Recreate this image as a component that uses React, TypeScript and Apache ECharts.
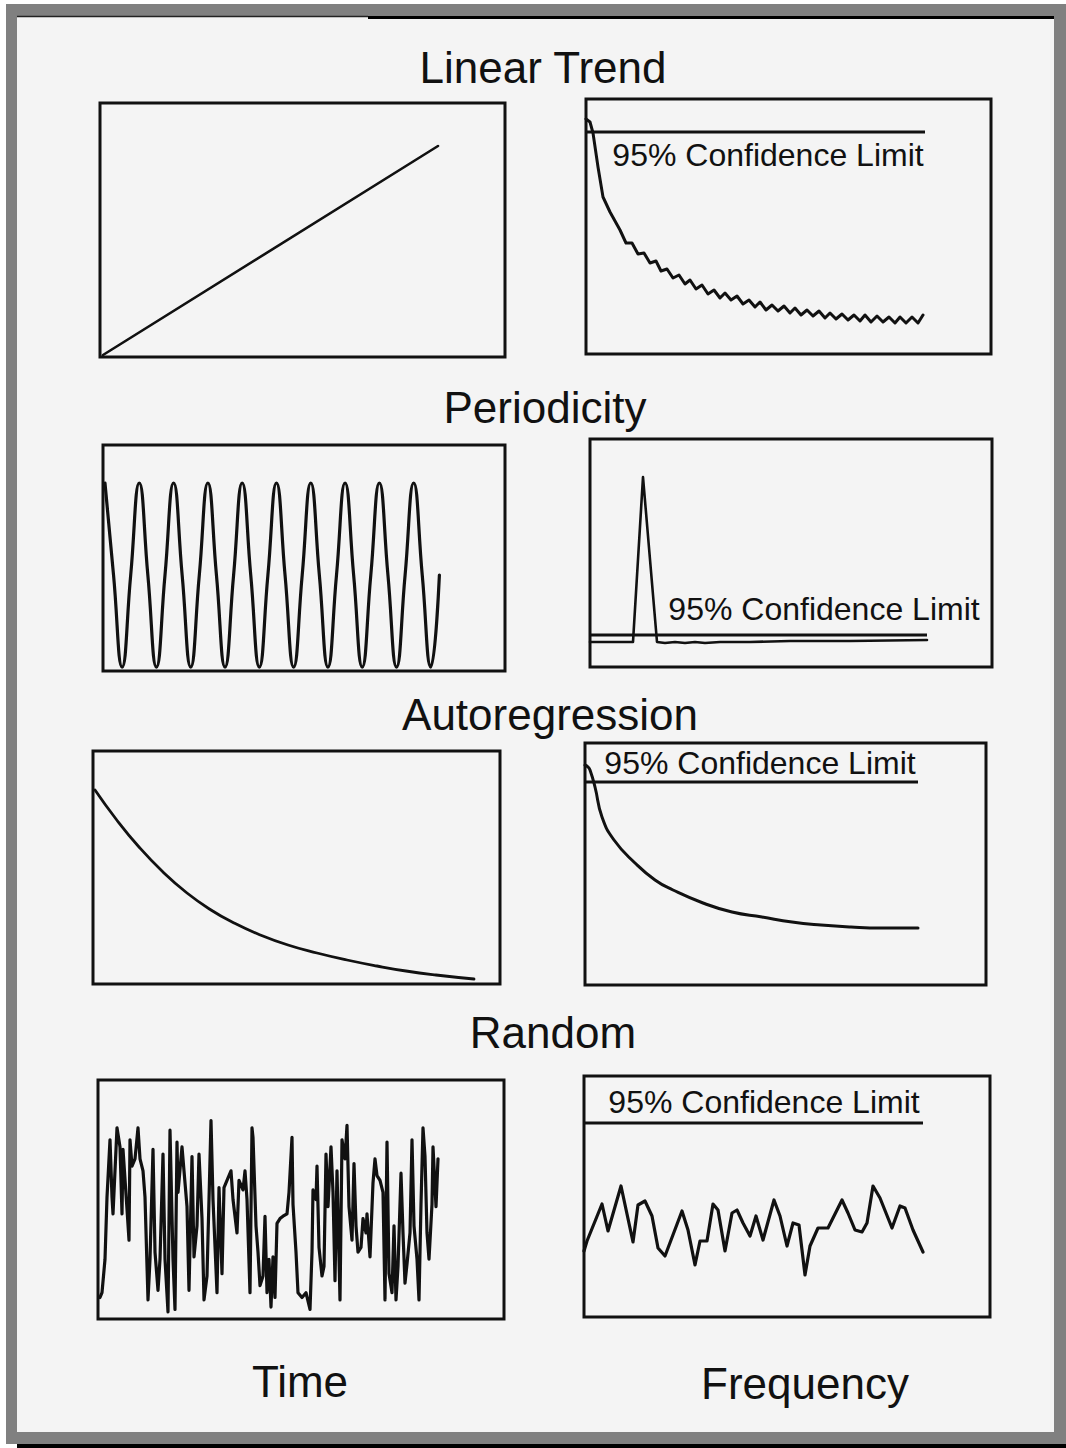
import React, { useEffect, useRef } from "react";
import * as echarts from "echarts";

// ---------------- DATA ----------------
const sectionTitles = ["Linear Trend", "Periodicity", "Autoregression", "Random"];
const columnTitles = ["Time", "Frequency"];
const limitLabel = "95% Confidence Limit";

// Linear trend – time domain
const linearTime = [[0, 2], [335, 211]];
// Linear trend – frequency domain (power spectrum)
const linearFreq = [
  [0, 235], [4, 232], [7, 221], [12, 187], [17, 157], [24, 142], [34, 124], [40, 111], [46, 111], [52, 100],
  [58, 101], [64, 91], [70, 93], [75, 83], [81, 85], [87, 76], [93, 79], [99, 70], [104, 74], [110, 65],
  [116, 69], [122, 60], [128, 64], [134, 56], [139, 61], [145, 54], [151, 58], [157, 50], [163, 54], [169, 47],
  [174, 52], [180, 44], [186, 49], [192, 43], [198, 48], [204, 41], [209, 46], [215, 39], [221, 44], [227, 38],
  [233, 43], [239, 36], [244, 41], [250, 35], [256, 40], [262, 34], [268, 39], [274, 33], [279, 39], [285, 32],
  [291, 38], [297, 32], [303, 37], [309, 31], [314, 37], [320, 31], [326, 37], [332, 31], [337, 39],
];
const linearLimit = [[0, 222], [339, 222]];

// Periodicity – time domain (quarter-period samples)
const periodTime = [
  1, 0, -1, 0, 1, 0, -1, 0, 1, 0, -1, 0, 1, 0, -1, 0, 1, 0, -1, 0,
  1, 0, -1, 0, 1, 0, -1, 0, 1, 0, -1, 0, 1, 0, -1, 0, 1, 0, -1, 0,
];
// Periodicity – frequency domain
const periodFreq = [
  [0, 25], [43, 25], [53, 190], [67, 25], [75, 24], [85, 25], [95, 24], [105, 25], [115, 24],
  [130, 25], [160, 25], [200, 26], [260, 26], [337, 27],
];
const periodLimit = [[0, 32], [337, 32]];

// Autoregression – time domain
const autoTime = [
  [2, 194], [23, 165], [46, 137], [70, 112], [94, 91], [118, 74], [141, 61], [165, 50],
  [195, 39], [224, 31], [254, 24], [284, 18], [313, 13], [343, 9], [381, 5],
];
// Autoregression – frequency domain
const autoFreq = [
  [0, 220], [3, 218], [5, 215], [10, 198], [17, 168], [29, 145], [50, 122], [70, 105], [88, 95],
  [118, 82], [147, 73], [177, 68], [207, 63], [236, 60], [266, 58], [296, 57], [333, 57],
];
const autoLimit = [[0, 203], [333, 203]];

// Random – time domain
const randomTime = [
  [0, 9], [2, 11], [5, 25], [7, 51], [10, 75], [12, 51], [13, 44], [17, 80], [20, 72], [22, 44],
  [23, 71], [27, 46], [29, 33], [30, 75], [32, 64], [35, 67], [38, 80], [40, 67], [43, 62], [45, 51],
  [48, 8], [50, 25], [53, 71], [55, 28], [58, 12], [60, 25], [63, 69], [65, 25], [68, 3], [70, 79],
  [73, 25], [75, 4], [77, 74], [78, 53], [82, 72], [84, 62], [87, 47], [89, 12], [92, 68], [94, 26],
  [97, 39], [99, 69], [102, 42], [104, 8], [107, 18], [109, 50], [111, 83], [113, 50], [117, 11], [119, 55],
  [122, 19], [124, 55], [127, 58], [131, 62], [133, 50], [137, 36], [139, 58], [143, 54], [145, 62], [147, 50],
  [150, 11], [152, 80], [153, 76], [156, 39], [158, 28], [160, 14], [163, 18], [165, 43], [167, 11], [169, 25],
  [171, 5], [173, 26], [175, 9], [177, 40], [180, 42], [183, 43], [187, 44], [189, 53], [192, 76], [193, 48],
  [196, 28], [198, 11], [202, 9], [206, 11], [210, 4], [212, 28], [213, 54], [216, 50], [217, 64], [219, 30],
  [222, 18], [224, 22], [226, 69], [228, 47], [231, 72], [233, 53], [235, 16], [237, 62], [240, 8], [242, 75],
  [245, 67], [247, 81], [249, 47], [252, 33], [254, 65], [256, 39], [258, 28], [261, 30], [263, 42], [266, 36],
  [267, 44], [270, 26], [273, 57], [275, 67], [277, 60], [280, 58], [283, 53], [285, 8], [287, 74], [289, 19],
  [292, 11], [294, 39], [296, 8], [298, 22], [301, 61], [303, 36], [305, 15], [307, 23], [310, 36], [312, 75],
  [314, 39], [317, 25], [319, 8], [321, 48], [323, 80], [325, 68], [327, 36], [329, 25], [332, 48], [333, 72],
  [336, 47], [338, 67],
];
// Random – frequency domain
const randomFreq = [
  [0, 66], [3, 76], [18, 113], [24, 86], [37, 131], [49, 75], [54, 112], [61, 116], [68, 101], [74, 69],
  [81, 61], [98, 106], [104, 87], [111, 52], [116, 76], [123, 76], [129, 113], [134, 107], [141, 66], [148, 104],
  [153, 107], [159, 94], [166, 81], [172, 101], [179, 77], [190, 117], [196, 101], [203, 71], [209, 94], [215, 92],
  [221, 42], [226, 71], [234, 89], [244, 89], [258, 117], [264, 104], [271, 87], [278, 85], [283, 94], [289, 131],
  [296, 119], [308, 89], [316, 111], [321, 109], [329, 87], [339, 65],
];
const randomLimit = [[0, 194], [339, 194]];

// ---------------- LAYOUT ----------------
const W = 1066;
const H = 1448;
const FONT = '"Liberation Sans", Arial, Helvetica, sans-serif';
const INK = "#111111";

type Panel = {
  grid: { left: number; top: number; width: number; height: number };
  x: [number, number];
  y: [number, number];
  data: number[][];
  smooth?: number | boolean;
  width?: number;
  limit?: number[][];
};

const panels: Panel[] = [
  { grid: { left: 100, top: 103, width: 405, height: 254 }, x: [-3, 402], y: [0, 254], data: linearTime, width: 2.6 },
  { grid: { left: 586, top: 99, width: 405, height: 255 }, x: [0, 405], y: [0, 255], data: linearFreq, width: 3 },
  { grid: { left: 103, top: 445, width: 402, height: 226 }, x: [-0.23, 46.65], y: [-1.043, 1.413], data: periodTime.map((v, i) => [i, v]), smooth: 0.5, width: 3.2 },
  { grid: { left: 590, top: 439, width: 402, height: 228 }, x: [0, 402], y: [0, 228], data: periodFreq, width: 2.6 },
  { grid: { left: 93, top: 751, width: 407, height: 233 }, x: [0, 407], y: [0, 233], data: autoTime, smooth: true, width: 2.8 },
  { grid: { left: 585, top: 743, width: 401, height: 242 }, x: [0, 401], y: [0, 242], data: autoFreq, smooth: true, width: 3 },
  { grid: { left: 98, top: 1080, width: 406, height: 239 }, x: [-2, 404], y: [0, 100], data: randomTime, width: 3.2 },
  { grid: { left: 584, top: 1076, width: 406, height: 241 }, x: [0, 406], y: [0, 241], data: randomFreq, width: 3.2 },
];
const limitData = [linearLimit, periodLimit, autoLimit, randomLimit];
const limitPanel = [1, 3, 5, 7];

const titlePos = [
  [543, 67], [545, 407], [550, 714], [553, 1032],
];
const columnPos = [
  [300, 1381], [805, 1383],
];
const limitLabelPos = [
  [768, 155], [824, 609], [760, 763], [764, 1102],
];

function buildOption() {
  const grids = panels.map((p) => ({
    ...p.grid,
    show: true,
    backgroundColor: "transparent",
    borderColor: INK,
    borderWidth: 3,
    containLabel: false,
    z: 5,
  }));
  const xAxis = panels.map((p, i) => ({
    type: "value",
    gridIndex: i,
    min: p.x[0],
    max: p.x[1],
    show: false,
  }));
  const yAxis = panels.map((p, i) => ({
    type: "value",
    gridIndex: i,
    min: p.y[0],
    max: p.y[1],
    show: false,
  }));
  const series: any[] = [];
  panels.forEach((p, i) => {
    series.push({
      type: "line",
      xAxisIndex: i,
      yAxisIndex: i,
      data: p.data,
      showSymbol: false,
      symbol: "none",
      smooth: p.smooth ?? false,
      lineStyle: { color: INK, width: p.width ?? 2.8, join: "round", cap: "round" },
      silent: true,
      z: 10,
    });
  });
  limitData.forEach((d, k) => {
    const i = limitPanel[k];
    series.push({
      type: "line",
      xAxisIndex: i,
      yAxisIndex: i,
      data: d,
      showSymbol: false,
      symbol: "none",
      lineStyle: { color: INK, width: 2.8 },
      silent: true,
      z: 10,
    });
  });

  const textEl = (text: string, x: number, y: number, size: number) => ({
    type: "text",
    x,
    y,
    z: 100,
    style: {
      text,
      font: `${size}px ${FONT}`,
      fill: INK,
      align: "center",
      verticalAlign: "middle",
      textAlign: "center",
      textVerticalAlign: "middle",
    },
  });

  const graphic: any[] = [
    { type: "rect", z: -100, shape: { x: 6, y: 4, width: 1060, height: 1440 }, style: { fill: "#808080" } },
    { type: "rect", z: -99, shape: { x: 17, y: 1444, width: 1049, height: 4 }, style: { fill: "#000000" } },
    { type: "rect", z: -98, shape: { x: 17, y: 17, width: 1037, height: 1415 }, style: { fill: "#f4f4f4" } },
    { type: "line", z: -97, shape: { x1: 17, y1: 16.5, x2: 368, y2: 16.5 }, style: { stroke: "#222", lineWidth: 1.5 } },
    { type: "line", z: -97, shape: { x1: 368, y1: 17.5, x2: 1054, y2: 17.5 }, style: { stroke: "#000", lineWidth: 3 } },
  ];
  sectionTitles.forEach((t, i) => graphic.push(textEl(t, titlePos[i][0], titlePos[i][1], 44)));
  columnTitles.forEach((t, i) => graphic.push(textEl(t, columnPos[i][0], columnPos[i][1], 44)));
  limitLabelPos.forEach((pos) => graphic.push(textEl(limitLabel, pos[0], pos[1], 32)));

  return {
    animation: false,
    backgroundColor: "#ffffff",
    grid: grids,
    xAxis,
    yAxis,
    series,
    graphic,
  };
}

export default function App() {
  const ref = useRef<HTMLDivElement>(null);
  useEffect(() => {
    if (!ref.current) return;
    const chart = echarts.init(ref.current, null, { renderer: "svg", width: W, height: H });
    chart.setOption(buildOption() as any);
    return () => chart.dispose();
  }, []);
  return (
    <div
      ref={ref}
      style={{ position: "absolute", left: 0, top: 0, width: W, height: H }}
    />
  );
}
